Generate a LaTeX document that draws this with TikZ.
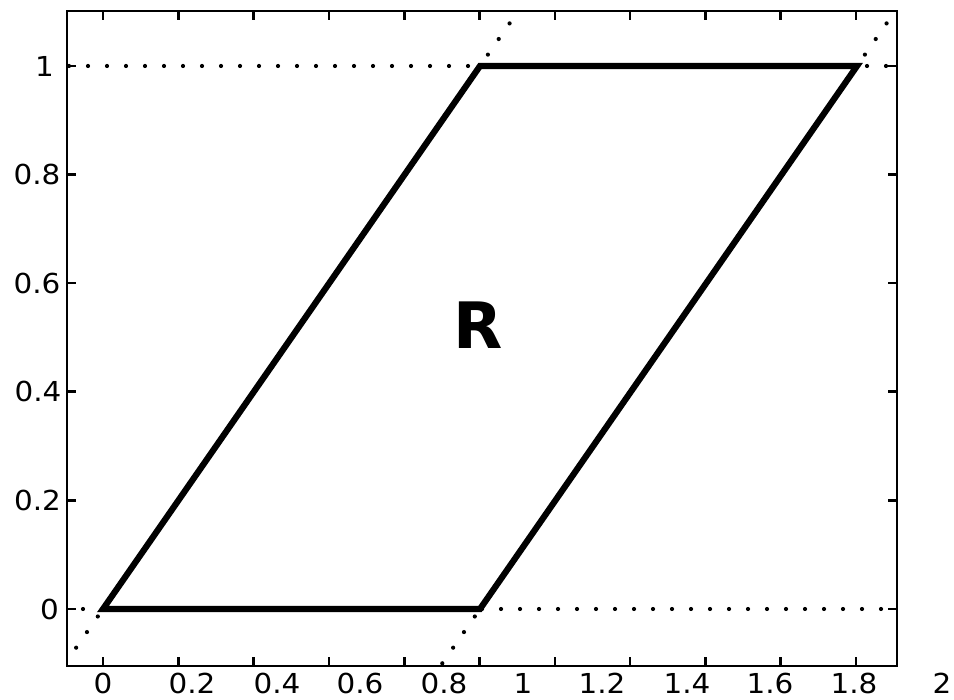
\documentclass[tikz,border=0pt]{standalone}
\usepackage{fontspec}
\setmainfont{DejaVu Sans}
\begin{document}
\begin{tikzpicture}[x=1pt,y=-1pt,
  frame/.style={line width=2.9pt},
  tickmark/.style={line width=2.6pt},
  dotline/.style={line width=4.2pt, line cap=round, dash pattern=on 0pt off 19pt},
  cellshape/.style={line width=6.2pt, line join=miter},
  ticklabel/.style={font=\fontsize{27.5}{30}\selectfont, inner sep=0pt, xscale=1.07, transform shape},
  biglabel/.style={font=\bfseries\fontsize{64}{70}\selectfont, inner sep=0pt}]
\useasboundingbox (0,0) rectangle (954,700);
% axis box corners
\coordinate (bl) at (67,666);
\coordinate (tr) at (897,11);
% dotted guide lines
\begin{scope}
\clip (bl) rectangle (tr);
\coordinate (h1a) at (69,66);  \coordinate (h1b) at (897,66);
\coordinate (h0a) at (64,609); \coordinate (h0b) at (897,609);
\coordinate (d1a) at (65.3,663.3); \coordinate (d1b) at (517.7,11.7);
\coordinate (d2a) at (442.3,663.3); \coordinate (d2b) at (894.7,11.7);
\draw[dotline] (h1a) -- (h1b);
\draw[dotline] (h0a) -- (h0b);
\draw[dotline] (d1a) -- (d1b);
\draw[dotline] (d2a) -- (d2b);
\end{scope}
% parallelogram
\coordinate (p0) at (103,609);
\coordinate (p1) at (480,609);
\coordinate (p2) at (857,66);
\coordinate (p3) at (480,66);
\draw[cellshape] (p0) -- (p1) -- (p2) -- (p3) -- cycle;
% ticks
\foreach \i in {0,...,10} {
  \draw[tickmark] ({103+\i*75.3},666) -- ++(0,-9);
  \draw[tickmark] ({103+\i*75.3},11) -- ++(0,9);
}
\foreach \j in {0,...,5} {
  \draw[tickmark] (67,{609-\j*108.6}) -- ++(9,0);
  \draw[tickmark] (897,{609-\j*108.6}) -- ++(-9,0);
}
% frame
\draw[frame] (bl) rectangle (tr);
% label R
\node[biglabel] (R) at (478,325) {R};
% x tick labels
\node[ticklabel, anchor=base] (x0)  at (103,693) {0};
\node[ticklabel, anchor=base] (x1)  at (192,693) {0.2};
\node[ticklabel, anchor=base] (x2)  at (277,693) {0.4};
\node[ticklabel, anchor=base] (x3)  at (360,693) {0.6};
\node[ticklabel, anchor=base] (x4)  at (444,693) {0.8};
\node[ticklabel, anchor=base] (x5)  at (523,693) {1};
\node[ticklabel, anchor=base] (x6)  at (602,693) {1.2};
\node[ticklabel, anchor=base] (x7)  at (687,693) {1.4};
\node[ticklabel, anchor=base] (x8)  at (770,693) {1.6};
\node[ticklabel, anchor=base] (x9)  at (854,693) {1.8};
\node[ticklabel, anchor=base] (x10) at (942,693) {2};
% y tick labels
\node[ticklabel] (y0) at (49.5,609) {0};
\node[ticklabel] (y1) at (37.5,500.4) {0.2};
\node[ticklabel] (y2) at (38,391.8) {0.4};
\node[ticklabel] (y3) at (37,283.2) {0.6};
\node[ticklabel] (y4) at (37,174.6) {0.8};
\node[ticklabel] (y5) at (44.5,66) {1};
\end{tikzpicture}
\end{document}
